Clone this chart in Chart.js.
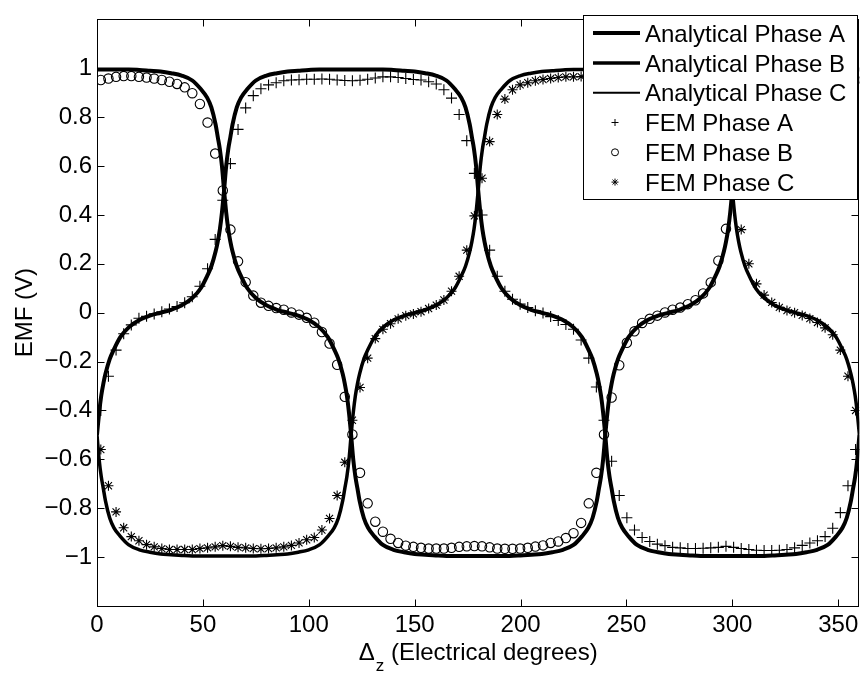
<!DOCTYPE html>
<html>
<head>
<meta charset="utf-8">
<script src="https://cdn.jsdelivr.net/npm/chart.js@4.4.1/dist/chart.umd.min.js"></script>
<style>
  html, body { margin: 0; padding: 0; background: #fff; }
  canvas { display: block; }
</style>
</head>
<body>
<canvas id="emf" width="866" height="673"></canvas>
<script>
// Rotor position grid (electrical degrees) for the analytical EMF curves
const analyticalX = [
  0,1,2,3,4,6,8,11,15,20,25,30,35,40,45,49,52,54,56,57,58,59,
  60,61,62,63,64,66,68,71,75,80,85,90,95,100,105,109,112,114,116,117,118,119,
  120,121,122,123,124,126,128,131,135,140,145,150,155,160,165,169,172,174,176,177,178,179,
  180,181,182,183,184,186,188,191,195,200,205,210,215,220,225,229,232,234,236,237,238,239,
  240,241,242,243,244,246,248,251,255,260,265,270,275,280,285,289,292,294,296,297,298,299,
  300,301,302,303,304,306,308,311,315,320,325,330,335,340,345,349,352,354,356,357,358,359,
  360
];

const analyticalA = [
  -0.5,-0.41,-0.34,-0.29,-0.25,-0.19,-0.15,-0.10,-0.06,-0.03,-0.012,0,0.012,0.03,0.06,0.10,0.15,0.19,0.25,0.29,0.34,0.41,
  0.5,0.6,0.67,0.72,0.77,0.84,0.88,0.915,0.95,0.97,0.98,0.987,0.99,0.993,0.995,0.995,0.995,0.995,0.995,0.995,0.995,0.995,
  0.995,0.995,0.995,0.995,0.995,0.995,0.995,0.995,0.995,0.993,0.99,0.987,0.98,0.97,0.95,0.915,0.88,0.84,0.77,0.72,0.67,0.6,
  0.5,0.41,0.34,0.29,0.25,0.19,0.15,0.10,0.06,0.03,0.012,0,-0.012,-0.03,-0.06,-0.10,-0.15,-0.19,-0.25,-0.29,-0.34,-0.41,
  -0.5,-0.6,-0.67,-0.72,-0.77,-0.84,-0.88,-0.915,-0.95,-0.97,-0.98,-0.987,-0.99,-0.993,-0.995,-0.995,-0.995,-0.995,-0.995,-0.995,-0.995,-0.995,
  -0.995,-0.995,-0.995,-0.995,-0.995,-0.995,-0.995,-0.995,-0.995,-0.993,-0.99,-0.987,-0.98,-0.97,-0.95,-0.915,-0.88,-0.84,-0.77,-0.72,-0.67,-0.6,
  -0.5
];

const analyticalB = [
  0.995,0.995,0.995,0.995,0.995,0.995,0.995,0.995,0.995,0.993,0.99,0.987,0.98,0.97,0.95,0.915,0.88,0.84,0.77,0.72,0.67,0.6,
  0.5,0.41,0.34,0.29,0.25,0.19,0.15,0.10,0.06,0.03,0.012,0,-0.012,-0.03,-0.06,-0.10,-0.15,-0.19,-0.25,-0.29,-0.34,-0.41,
  -0.5,-0.6,-0.67,-0.72,-0.77,-0.84,-0.88,-0.915,-0.95,-0.97,-0.98,-0.987,-0.99,-0.993,-0.995,-0.995,-0.995,-0.995,-0.995,-0.995,-0.995,-0.995,
  -0.995,-0.995,-0.995,-0.995,-0.995,-0.995,-0.995,-0.995,-0.995,-0.993,-0.99,-0.987,-0.98,-0.97,-0.95,-0.915,-0.88,-0.84,-0.77,-0.72,-0.67,-0.6,
  -0.5,-0.41,-0.34,-0.29,-0.25,-0.19,-0.15,-0.10,-0.06,-0.03,-0.012,0,0.012,0.03,0.06,0.10,0.15,0.19,0.25,0.29,0.34,0.41,
  0.5,0.6,0.67,0.72,0.77,0.84,0.88,0.915,0.95,0.97,0.98,0.987,0.99,0.993,0.995,0.995,0.995,0.995,0.995,0.995,0.995,0.995,
  0.995
];

const analyticalC = [
  -0.5,-0.6,-0.67,-0.72,-0.77,-0.84,-0.88,-0.915,-0.95,-0.97,-0.98,-0.987,-0.99,-0.993,-0.995,-0.995,-0.995,-0.995,-0.995,-0.995,-0.995,-0.995,
  -0.995,-0.995,-0.995,-0.995,-0.995,-0.995,-0.995,-0.995,-0.995,-0.993,-0.99,-0.987,-0.98,-0.97,-0.95,-0.915,-0.88,-0.84,-0.77,-0.72,-0.67,-0.6,
  -0.5,-0.41,-0.34,-0.29,-0.25,-0.19,-0.15,-0.10,-0.06,-0.03,-0.012,0,0.012,0.03,0.06,0.10,0.15,0.19,0.25,0.29,0.34,0.41,
  0.5,0.6,0.67,0.72,0.77,0.84,0.88,0.915,0.95,0.97,0.98,0.987,0.99,0.993,0.995,0.995,0.995,0.995,0.995,0.995,0.995,0.995,
  0.995,0.995,0.995,0.995,0.995,0.995,0.995,0.995,0.995,0.993,0.99,0.987,0.98,0.97,0.95,0.915,0.88,0.84,0.77,0.72,0.67,0.6,
  0.5,0.41,0.34,0.29,0.25,0.19,0.15,0.10,0.06,0.03,0.012,0,-0.012,-0.03,-0.06,-0.10,-0.15,-0.19,-0.25,-0.29,-0.34,-0.41,
  -0.5
];

// Finite-element sample positions (electrical degrees)
const femX = [
  1.8,5.4,9,12.6,16.2,19.8,23.4,27,30.6,34.2,
  37.8,41.4,45,48.6,52.2,55.8,59.4,63,66.6,70.2,
  73.8,77.4,81,84.6,88.2,91.8,95.4,99,102.6,106.2,
  109.8,113.4,117,120.6,124.2,127.8,131.4,135,138.6,142.2,
  145.8,149.4,153,156.6,160.2,163.8,167.4,171,174.6,178.2,
  181.8,185.4,189,192.6,196.2,199.8,203.4,207,210.6,214.2,
  217.8,221.4,225,228.6,232.2,235.8,239.4,243,246.6,250.2,
  253.8,257.4,261,264.6,268.2,271.8,275.4,279,282.6,286.2,
  289.8,293.4,297,300.6,304.2,307.8,311.4,315,318.6,322.2,
  325.8,329.4,333,336.6,340.2,343.8,347.4,351,354.6,358.2
];

const femA = [
  -0.40,-0.26,-0.153,-0.086,-0.05,-0.023,-0.015,-0.005,0.004,0.015,
  0.025,0.041,0.065,0.108,0.18,0.30,0.46,0.61,0.75,0.838,
  0.888,0.916,0.932,0.941,0.949,0.952,0.953,0.955,0.955,0.956,
  0.955,0.952,0.950,0.949,0.951,0.955,0.960,0.965,0.965,0.962,
  0.958,0.954,0.952,0.945,0.936,0.912,0.878,0.811,0.704,0.57,
  0.40,0.256,0.149,0.088,0.055,0.035,0.021,0.008,-0.001,-0.016,
  -0.032,-0.048,-0.068,-0.112,-0.186,-0.304,-0.44,-0.608,-0.748,-0.839,
  -0.889,-0.92,-0.936,-0.947,-0.953,-0.96,-0.962,-0.965,-0.965,-0.964,
  -0.962,-0.96,-0.956,-0.96,-0.965,-0.969,-0.972,-0.973,-0.973,-0.972,
  -0.969,-0.962,-0.952,-0.942,-0.933,-0.916,-0.882,-0.818,-0.708,-0.56
];

const femB = [
  0.952,0.958,0.965,0.968,0.968,0.965,0.962,0.958,0.952,0.945,
  0.936,0.922,0.898,0.854,0.778,0.651,0.50,0.34,0.21,0.125,
  0.07,0.041,0.028,0.019,0.012,0.001,-0.008,-0.021,-0.041,-0.079,
  -0.126,-0.213,-0.344,-0.498,-0.655,-0.78,-0.855,-0.896,-0.925,-0.942,
  -0.953,-0.958,-0.962,-0.965,-0.965,-0.965,-0.962,-0.958,-0.956,-0.955,
  -0.956,-0.96,-0.965,-0.966,-0.966,-0.965,-0.962,-0.957,-0.952,-0.942,
  -0.936,-0.922,-0.902,-0.86,-0.78,-0.655,-0.498,-0.347,-0.215,-0.123,
  -0.076,-0.042,-0.025,-0.012,0.001,0.012,0.021,0.035,0.051,0.079,
  0.124,0.213,0.343,0.50,0.651,0.778,0.854,0.898,0.922,0.936,
  0.945,0.952,0.958,0.962,0.965,0.968,0.968,0.965,0.958,0.952
];

const femC = [
  -0.56,-0.708,-0.815,-0.88,-0.916,-0.933,-0.949,-0.958,-0.965,-0.969,
  -0.969,-0.969,-0.969,-0.965,-0.962,-0.958,-0.953,-0.956,-0.96,-0.962,
  -0.965,-0.966,-0.965,-0.962,-0.958,-0.952,-0.942,-0.929,-0.92,-0.889,
  -0.842,-0.748,-0.612,-0.44,-0.306,-0.186,-0.106,-0.068,-0.045,-0.025,
  -0.012,-0.005,0.004,0.017,0.031,0.052,0.088,0.149,0.256,0.396,
  0.55,0.70,0.811,0.874,0.912,0.932,0.941,0.949,0.954,0.958,
  0.962,0.965,0.965,0.966,0.966,0.965,0.962,0.958,0.955,0.955,
  0.957,0.96,0.962,0.962,0.96,0.955,0.95,0.94,0.925,0.90,
  0.87,0.80,0.68,0.50,0.34,0.20,0.118,0.072,0.042,0.022,
  0.009,0.0,-0.011,-0.024,-0.04,-0.062,-0.09,-0.153,-0.26,-0.40
];

// Axis tick values
const xTicks = [0, 50, 100, 150, 200, 250, 300, 350];
const yTicks = [-1, -0.8, -0.6, -0.4, -0.2, 0, 0.2, 0.4, 0.6, 0.8, 1];

const FONT = '"Liberation Sans", Arial, Helvetica, sans-serif';
const FONT_SIZE = 24;

const pts = (xs, ys) => xs.map((x, i) => ({ x: x, y: ys[i] }));

function lineSet(label, ys, width, keyWidth) {
  return {
    label, data: pts(analyticalX, ys), showLine: true,
    borderColor: '#000', borderWidth: width, pointRadius: 0,
    cubicInterpolationMode: 'monotone', fill: false,
    keyWidth: keyWidth
  };
}
function markerSet(label, ys, style, radius) {
  return {
    label, data: pts(femX, ys), showLine: false,
    pointStyle: style, pointRadius: radius, pointBorderWidth: 1.1,
    pointBorderColor: '#000', pointBackgroundColor: 'rgba(0,0,0,0)',
    borderColor: '#000', backgroundColor: 'rgba(0,0,0,0)'
  };
}

// Box around the plot with MATLAB-style inward ticks on all four sides
const framePlugin = {
  id: 'frame',
  afterDatasetsDraw(chart) {
    const { ctx, chartArea: a, scales } = chart;
    const L = Math.round(a.left) + 0.5, R = Math.round(a.right) - 0.5;
    const T = Math.round(a.top) + 0.5, B = Math.round(a.bottom) + 0.5;
    const len = 7;
    ctx.save();
    ctx.strokeStyle = '#000';
    ctx.lineWidth = 1;
    ctx.strokeRect(L, T, R - L, B - T);
    ctx.beginPath();
    xTicks.forEach(v => {
      const px = Math.round(scales.x.getPixelForValue(v)) + 0.5;
      ctx.moveTo(px, B); ctx.lineTo(px, B - len);
      ctx.moveTo(px, T); ctx.lineTo(px, T + len);
    });
    yTicks.forEach(v => {
      const py = Math.round(scales.y.getPixelForValue(v)) + 0.5;
      ctx.moveTo(L, py); ctx.lineTo(L + len, py);
      ctx.moveTo(R, py); ctx.lineTo(R - len, py);
    });
    ctx.stroke();
    ctx.restore();
  }
};

// Axis titles, including the subscripted Δz symbol
const titlePlugin = {
  id: 'axisTitles',
  afterDraw(chart) {
    const { ctx, chartArea: a } = chart;
    ctx.save();
    ctx.fillStyle = '#000';
    ctx.textBaseline = 'alphabetic';
    ctx.textAlign = 'left';
    const main = FONT_SIZE + 'px ' + FONT;
    const sub = '17px ' + FONT;
    const t1 = '\u0394', t2 = 'z', t3 = ' (Electrical degrees)';
    ctx.font = main; const w1 = ctx.measureText(t1).width; const w3 = ctx.measureText(t3).width;
    ctx.font = sub; const w2 = ctx.measureText(t2).width;
    const total = w1 + 1 + w2 + w3;
    let x0 = (a.left + a.right) / 2 - total / 2;
    const base = 660;
    ctx.font = main; ctx.fillText(t1, x0, base);
    ctx.font = sub; ctx.fillText(t2, x0 + w1 + 1, base + 11);
    ctx.font = main; ctx.fillText(t3, x0 + w1 + 1 + w2, base);

    ctx.translate(32, (a.top + a.bottom) / 2);
    ctx.rotate(-Math.PI / 2);
    ctx.textAlign = 'center';
    ctx.font = main;
    ctx.fillText('EMF (V)', 0, 0);
    ctx.restore();
  }
};

// Legend box drawn inside the plot, top-right corner
const legendPlugin = {
  id: 'boxLegend',
  afterDraw(chart) {
    const { ctx } = chart;
    const box = { left: 583, top: 15, right: 857, bottom: 199 };
    ctx.save();
    ctx.fillStyle = '#fff';
    ctx.fillRect(box.left, box.top, box.right - box.left, box.bottom - box.top);
    ctx.strokeStyle = '#000';
    ctx.lineWidth = 1;
    ctx.strokeRect(box.left + 0.5, box.top + 0.5, box.right - box.left, box.bottom - box.top);
    ctx.font = FONT_SIZE + 'px ' + FONT;
    ctx.textBaseline = 'alphabetic';
    ctx.textAlign = 'left';
    chart.data.datasets.forEach((ds, i) => {
      const base = 41.7 + i * 29.8;
      const cy = base - 8.6;
      ctx.strokeStyle = '#000';
      if (ds.showLine) {
        ctx.lineWidth = ds.keyWidth;
        ctx.beginPath();
        ctx.moveTo(593, cy); ctx.lineTo(640, cy);
        ctx.stroke();
      } else {
        ctx.lineWidth = 1;
        ctx.fillStyle = 'rgba(0,0,0,0)';
        Chart.helpers.drawPoint(ctx, {
          pointStyle: ds.pointStyle, radius: 3.5, rotation: 0,
          borderWidth: 1
        }, 615, cy);
      }
      ctx.fillStyle = '#000';
      ctx.fillText(ds.label, 645, base);
    });
    ctx.restore();
  }
};

const fmt = v => {
  const r = Math.round(v * 10) / 10;
  return (r < 0 ? '\u2212' : '') + String(Math.abs(r));
};

new Chart(document.getElementById('emf'), {
  type: 'scatter',
  data: {
    datasets: [
      lineSet('Analytical Phase A', analyticalA, 4, 4),
      lineSet('Analytical Phase B', analyticalB, 4, 3.5),
      lineSet('Analytical Phase C', analyticalC, 3.5, 2),
      markerSet('FEM Phase A', femA, 'cross', 5.5),
      markerSet('FEM Phase B', femB, 'circle', 4.7),
      markerSet('FEM Phase C', femC, 'star', 5)
    ]
  },
  options: {
    responsive: false,
    animation: false,
    devicePixelRatio: 1,
    layout: { padding: { top: 8, right: 1, left: 0, bottom: 0 } },
    plugins: { legend: { display: false }, tooltip: { enabled: false } },
    scales: {
      x: {
        type: 'linear', min: 0, max: 360,
        grid: { display: false, drawTicks: false },
        border: { display: false },
        ticks: {
          color: '#000', font: { family: FONT, size: FONT_SIZE },
          padding: 5, maxRotation: 0, autoSkip: false, callback: fmt
        },
        afterBuildTicks: s => { s.ticks = xTicks.map(v => ({ value: v })); },
        afterFit: s => { s.height = 67; }
      },
      y: {
        type: 'linear', min: -1.2, max: 1.2,
        grid: { display: false, drawTicks: false },
        border: { display: false },
        ticks: {
          color: '#000', font: { family: FONT, size: FONT_SIZE },
          padding: 5, autoSkip: false, callback: fmt
        },
        afterBuildTicks: s => { s.ticks = yTicks.map(v => ({ value: v })); },
        afterFit: s => { s.width = 97; }
      }
    }
  },
  plugins: [framePlugin, titlePlugin, legendPlugin]
});
</script>
</body>
</html>
